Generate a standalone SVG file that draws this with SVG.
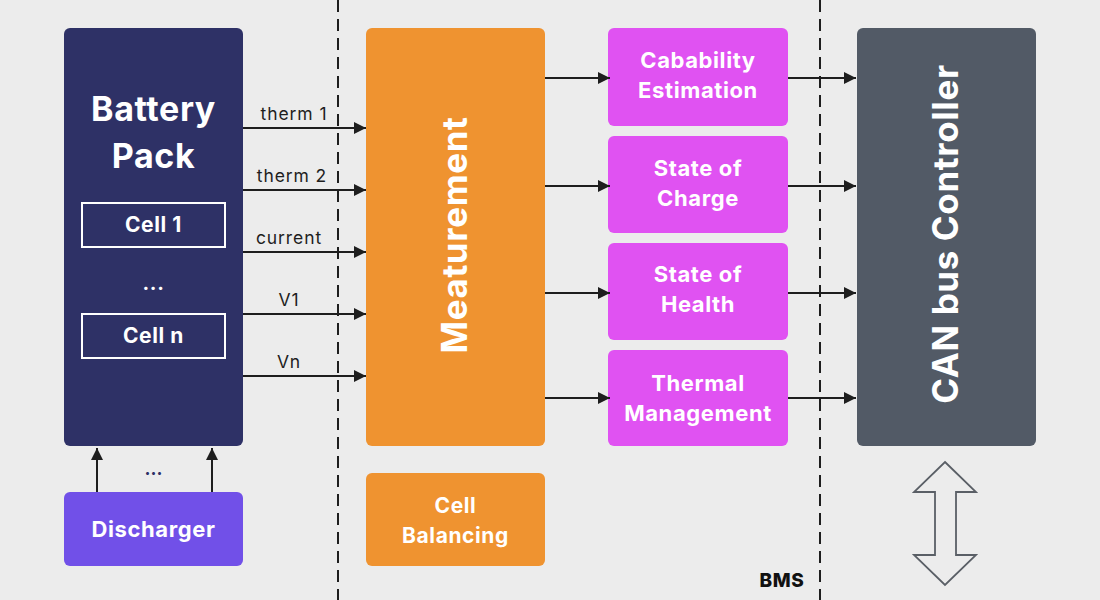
<svg xmlns="http://www.w3.org/2000/svg" width="1100" height="600" viewBox="0 0 1100 600">
<defs>
<marker id="ah" viewBox="0 0 12 12" markerWidth="12" markerHeight="12" refX="12" refY="6" orient="auto" markerUnits="userSpaceOnUse">
<path d="M0,0 L12,6 L0,12 Z" fill="#1e1e1e"/>
</marker>
<style>
.t{font-family:Inter,"Noto Sans",sans-serif;font-weight:700;fill:#ffffff;text-anchor:middle;letter-spacing:0.6px}
.lbl{font-family:Inter,"Noto Sans",sans-serif;font-size:17.5px;fill:#1e1e1e;text-anchor:middle;letter-spacing:0.9px}
.ln{stroke:#1e1e1e;stroke-width:2;fill:none;marker-end:url(#ah)}
.dash{stroke:#1e1e1e;stroke-width:2;stroke-dasharray:12,7;fill:none}
</style>
</defs>
<rect width="1100" height="600" fill="#ececec"/>
<g id="dividers">
<line class="dash" x1="338" y1="0" x2="338" y2="600"/>
<line class="dash" x1="820" y1="0" x2="820" y2="600"/>
</g>
<g id="battery-pack">
<rect x="64" y="28" width="179" height="418" rx="6" fill="#2e3166"/>
<text class="t" x="153.5" y="121" font-size="34">Battery</text>
<text class="t" x="153.5" y="168" font-size="34">Pack</text>
<rect x="82" y="203" width="143" height="44" fill="none" stroke="#ffffff" stroke-width="2"/>
<text class="t" x="153.5" y="232" font-size="21">Cell 1</text>
<text class="t" x="153.5" y="290" font-size="20">...</text>
<rect x="82" y="314" width="143" height="44" fill="none" stroke="#ffffff" stroke-width="2"/>
<text class="t" x="153.5" y="343" font-size="21">Cell n</text>
</g>
<g id="discharger">
<rect x="64" y="492" width="179" height="74" rx="6" fill="#7150e8"/>
<text class="t" x="153.5" y="537" font-size="22">Discharger</text>
</g>
<g id="measurement">
<rect x="366" y="28" width="179" height="418" rx="6" fill="#ef9330"/>
<text class="t" font-size="35" transform="translate(467,235) rotate(-90)">Meaturement</text>
</g>
<g id="cell-balancing">
<rect x="366" y="473" width="179" height="93" rx="6" fill="#ef9330"/>
<text class="t" x="455.5" y="513" font-size="21">Cell</text>
<text class="t" x="455.5" y="543" font-size="21">Balancing</text>
</g>
<g id="capability">
<rect x="608" y="28" width="180" height="98" rx="6" fill="#e052f2"/>
<text class="t" x="698" y="68" font-size="22">Cabability</text>
<text class="t" x="698" y="98" font-size="22">Estimation</text>
</g>
<g id="soc">
<rect x="608" y="136" width="180" height="97" rx="6" fill="#e052f2"/>
<text class="t" x="698" y="176" font-size="22">State of</text>
<text class="t" x="698" y="206" font-size="22">Charge</text>
</g>
<g id="soh">
<rect x="608" y="243" width="180" height="97" rx="6" fill="#e052f2"/>
<text class="t" x="698" y="282" font-size="22">State of</text>
<text class="t" x="698" y="312" font-size="22">Health</text>
</g>
<g id="thermal">
<rect x="608" y="350" width="180" height="96" rx="6" fill="#e052f2"/>
<text class="t" x="698" y="391" font-size="22">Thermal</text>
<text class="t" x="698" y="421" font-size="22">Management</text>
</g>
<g id="can-bus">
<rect x="857" y="28" width="179" height="418" rx="6" fill="#525a66"/>
<text class="t" font-size="35" transform="translate(958,234) rotate(-90)">CAN bus Controller</text>
</g>
<g id="bms-label">
<text x="782" y="587" font-family="Inter,'Noto Sans',sans-serif" font-weight="800" font-size="19" fill="#111" text-anchor="middle" letter-spacing="0.6">BMS</text>
</g>
<g id="connectors">
<line class="ln" x1="243" y1="128" x2="366" y2="128"/>
<line class="ln" x1="243" y1="190" x2="366" y2="190"/>
<line class="ln" x1="243" y1="252" x2="366" y2="252"/>
<line class="ln" x1="243" y1="314" x2="366" y2="314"/>
<line class="ln" x1="243" y1="376" x2="366" y2="376"/>
<text class="lbl" x="294" y="120">therm 1</text>
<text class="lbl" x="292" y="182">therm 2</text>
<text class="lbl" x="289" y="244">current</text>
<text class="lbl" x="289" y="306">V1</text>
<text class="lbl" x="289" y="368">Vn</text>
<line class="ln" x1="545" y1="78" x2="610" y2="78"/>
<line class="ln" x1="545" y1="186" x2="610" y2="186"/>
<line class="ln" x1="545" y1="293" x2="610" y2="293"/>
<line class="ln" x1="545" y1="398" x2="610" y2="398"/>
<line class="ln" x1="788" y1="78" x2="856" y2="78"/>
<line class="ln" x1="788" y1="186" x2="856" y2="186"/>
<line class="ln" x1="788" y1="293" x2="856" y2="293"/>
<line class="ln" x1="788" y1="398" x2="856" y2="398"/>
<line class="ln" x1="97" y1="492" x2="97" y2="448"/>
<line class="ln" x1="212" y1="492" x2="212" y2="448"/>
<text x="153.5" y="475" font-family="Inter,'Noto Sans',sans-serif" font-weight="700" font-size="18" fill="#2e3166" text-anchor="middle">...</text>
<path d="M945,462 L976,492 L956,492 L956,555 L976,555 L945,585 L914,555 L935,555 L935,492 L914,492 Z" fill="none" stroke="#5a5f66" stroke-width="1.8"/>
</g>
</svg>
